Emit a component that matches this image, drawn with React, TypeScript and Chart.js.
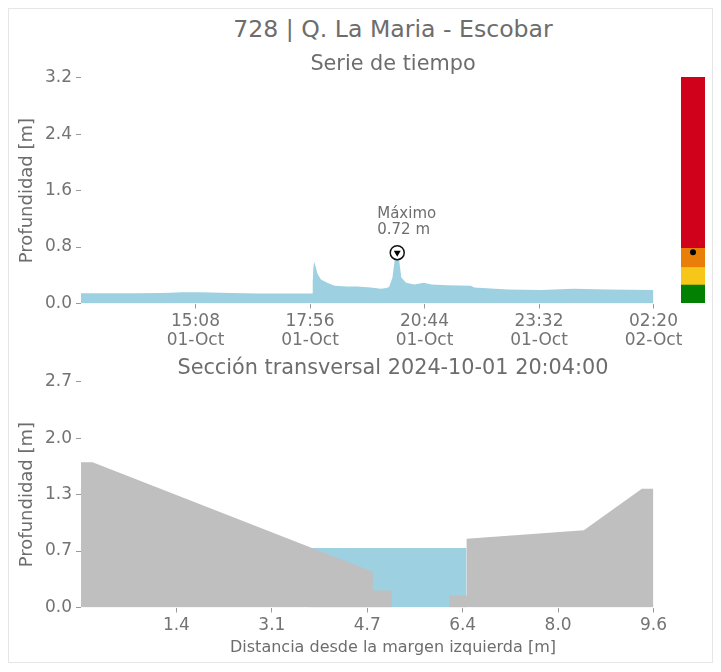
import React, { useEffect, useRef } from "react";
import { Chart, registerables } from "chart.js";

Chart.register(...registerables);

// ---------- text ----------
const stationTitle = "728 | Q. La Maria - Escobar";
const seriesTitle = "Serie de tiempo";
const sectionTime = "2024-10-01 20:04:00";
const sectionTitle = "Sección transversal " + sectionTime;
const depthLabel = "Profundidad [m]";
const distanceLabel = "Distancia desde la margen izquierda [m]";
const maxLabel = "Máximo";

// ---------- time series ----------
const seriesTimes = [
  "12:20", "13:00", "13:40", "14:20", "14:50", "15:10", "15:30", "16:00", "16:40", "17:20",
  "17:59", "18:00", "18:01", "18:02", "18:04", "18:07", "18:12", "18:22", "18:32", "18:50",
  "19:06", "19:25", "19:40", "19:48", "19:52", "19:57", "20:00", "20:03", "20:04", "20:05",
  "20:07", "20:10", "20:17", "20:29", "20:43", "20:54", "21:18", "21:52", "21:57", "22:46",
  "23:35", "00:23", "01:13", "02:19", "02:20",
];
const seriesDepths = [
  0.145, 0.145, 0.147, 0.15, 0.158, 0.16, 0.155, 0.148, 0.143, 0.142,
  0.142, 0.3, 0.5, 0.59, 0.53, 0.42, 0.34, 0.29, 0.25, 0.24,
  0.24, 0.225, 0.21, 0.22, 0.234, 0.37, 0.6, 0.7, 0.72, 0.7,
  0.6, 0.37, 0.295, 0.27, 0.295, 0.27, 0.26, 0.25, 0.225, 0.2,
  0.19, 0.21, 0.2, 0.19, 0.19,
];
const timeTickMinutes = [168, 336, 504, 672, 840];
const timeTickLabels = [
  ["15:08", "01-Oct"],
  ["17:56", "01-Oct"],
  ["20:44", "01-Oct"],
  ["23:32", "01-Oct"],
  ["02:20", "02-Oct"],
];
const timeSpanMinutes = 840;
const depthTicksTop = [0, 0.8, 1.6, 2.4, 3.2];
const depthTickLabelsTop = ["0.0", "0.8", "1.6", "2.4", "3.2"];

// ---------- alert levels ----------
const levelLimits = [0, 0.25, 0.5, 0.77, 3.2];
const levelColors = ["#018001", "#f6c619", "#e97f08", "#d0021b"];
const currentDepth = 0.72;

// ---------- cross section ----------
const groundX = [-0.24, -0.24, -0.04, 4.8, 4.8, 5.13, 5.13, 6.12, 6.12, 6.42, 6.42, 8.445, 9.447, 9.648, 9.648];
const groundY = [0, 1.71, 1.71, 0.42, 0.2, 0.2, 0, 0, 0.14, 0.14, 0.81, 0.91, 1.4, 1.4, 0];
const waterX = [3.7, 6.42];
const waterLevel = 0.7;
const distanceMin = -0.24;
const distanceMax = 9.648;
const distanceTicks = [1.408, 3.056, 4.704, 6.352, 8.0, 9.648];
const distanceTickLabels = ["1.4", "3.1", "4.7", "6.4", "8.0", "9.6"];
const depthTicksBottom = [0, 0.665, 1.33, 1.995, 2.66];
const depthTickLabelsBottom = ["0.0", "0.7", "1.3", "2.0", "2.7"];

// ---------- style ----------
const FONT = "DejaVu Sans";
const TEXT = "#6d6d6d";
const TICK_TEXT = "#737373";
const TICK_MARK = "#9a9a9a";
const WATER = "#9dd0e0";
const GROUND = "#bfbfbf";

function toMinutes(times: string[]): number[] {
  let day = 0;
  let prev = -Infinity;
  let base = 0;
  return times.map((t, i) => {
    const [h, m] = t.split(":").map(Number);
    let abs = h * 60 + m + day * 1440;
    if (abs < prev) {
      day += 1;
      abs += 1440;
    }
    prev = abs;
    if (i === 0) base = abs;
    return abs - base;
  });
}

function yAxis(ticks: number[], labels: string[], max: number) {
  return {
    type: "linear" as const,
    min: 0,
    max,
    afterBuildTicks: (s: any) => {
      s.ticks = ticks.map((v) => ({ value: v }));
    },
    afterFit: (s: any) => {
      s.width = 69;
    },
    border: { display: false },
    grid: { drawOnChartArea: false, drawTicks: true, tickLength: 5, color: TICK_MARK },
    ticks: {
      autoSkip: false,
      padding: 4,
      color: TICK_TEXT,
      font: { family: FONT, size: 17 },
      callback: (_v: any, i: number) => labels[i],
    },
    title: {
      display: true,
      text: depthLabel,
      color: TEXT,
      font: { family: FONT, size: 18 },
      padding: { top: 4.5, bottom: 0 },
    },
  };
}

function xAxisBase(min: number, max: number, ticks: number[], labels: any[]) {
  return {
    type: "linear" as const,
    min,
    max,
    afterBuildTicks: (s: any) => {
      s.ticks = ticks.map((v) => ({ value: v }));
    },
    afterFit: (s: any) => {
      s.height = 53.5;
    },
    border: { display: false },
    grid: { drawOnChartArea: false, drawTicks: true, tickLength: 5, color: TICK_MARK },
    ticks: {
      autoSkip: false,
      maxRotation: 0,
      padding: 3,
      color: TICK_TEXT,
      font: { family: FONT, size: 17, lineHeight: 1.15 },
      callback: (_v: any, i: number) => labels[i],
    },
  };
}

export default function App() {
  const topRef = useRef<HTMLCanvasElement>(null);
  const barRef = useRef<HTMLCanvasElement>(null);
  const secRef = useRef<HTMLCanvasElement>(null);

  useEffect(() => {
    const minutes = toMinutes(seriesTimes);
    const seriesPts = minutes.map((x, i) => ({ x, y: seriesDepths[i] }));
    let maxI = 0;
    seriesDepths.forEach((v, i) => {
      if (v > seriesDepths[maxI]) maxI = i;
    });
    const maxPt = { x: minutes[maxI], y: seriesDepths[maxI] };

    const annotate = {
      id: "maxAnnotation",
      afterDatasetsDraw(chart: any) {
        const { ctx, scales } = chart;
        const px = scales.x.getPixelForValue(maxPt.x);
        const py = scales.y.getPixelForValue(maxPt.y);
        ctx.save();
        ctx.font = `15px "${FONT}"`;
        ctx.fillStyle = TEXT;
        ctx.textAlign = "left";
        ctx.textBaseline = "middle";
        ctx.fillText(maxLabel, px - 20, py - 39);
        ctx.fillText(maxPt.y.toFixed(2) + " m", px - 20, py - 23);
        ctx.restore();
      },
    };

    const top = new Chart(topRef.current!, {
      type: "line",
      data: {
        datasets: [
          {
            data: [maxPt],
            showLine: false,
            pointStyle: "triangle",
            rotation: 180,
            pointRadius: 4,
            pointBackgroundColor: "#000",
            pointBorderColor: "#000",
            pointBorderWidth: 0,
            order: 0,
          } as any,
          {
            data: [maxPt],
            showLine: false,
            pointStyle: "circle",
            pointRadius: 7,
            pointBackgroundColor: "#fff",
            pointBorderColor: "#111",
            pointBorderWidth: 1.5,
            order: 1,
          },
          {
            data: seriesPts,
            fill: "origin",
            backgroundColor: WATER,
            borderColor: "rgba(0,0,0,0)",
            borderWidth: 0,
            pointRadius: 0,
            tension: 0,
            order: 2,
          },
        ],
      },
      options: {
        animation: false,
        responsive: false,
        maintainAspectRatio: false,
        layout: { padding: { top: 20.7, right: 48.5, left: 0, bottom: 0 } },
        plugins: { legend: { display: false }, tooltip: { enabled: false } },
        scales: {
          x: xAxisBase(0, timeSpanMinutes, timeTickMinutes, timeTickLabels),
          y: yAxis(depthTicksTop, depthTickLabelsTop, depthTicksTop[depthTicksTop.length - 1]),
        },
      } as any,
      plugins: [annotate],
    });

    const bar = new Chart(barRef.current!, {
      type: "bar",
      data: {
        labels: [""],
        datasets: [
          {
            type: "line",
            data: [currentDepth],
            showLine: false,
            pointRadius: 3,
            pointBackgroundColor: "#000",
            pointBorderColor: "#000",
            pointBorderWidth: 0,
            stack: "dot",
            order: 0,
          } as any,
          ...levelColors.map((c, i) => ({
            type: "bar" as const,
            data: [[levelLimits[i], levelLimits[i + 1]]],
            backgroundColor: c,
            borderWidth: 0,
            inflateAmount: 0.6,
            barPercentage: 1,
            categoryPercentage: 1,
            grouped: false,
            order: 1,
          })),
        ],
      },
      options: {
        animation: false,
        responsive: false,
        maintainAspectRatio: false,
        layout: { padding: 0, autoPadding: false },
        plugins: { legend: { display: false }, tooltip: { enabled: false } },
        scales: {
          x: { display: false },
          y: { display: false, min: 0, max: levelLimits[levelLimits.length - 1] },
        },
      } as any,
    });

    const groundPts = groundX.map((x, i) => ({ x, y: groundY[i] }));
    const waterPts = waterX.map((x) => ({ x, y: waterLevel }));

    const sec = new Chart(secRef.current!, {
      type: "line",
      data: {
        datasets: [
          {
            data: groundPts,
            fill: "origin",
            backgroundColor: GROUND,
            borderColor: "rgba(0,0,0,0)",
            borderWidth: 0,
            pointRadius: 0,
            tension: 0,
            order: 0,
          },
          {
            data: waterPts,
            fill: "origin",
            backgroundColor: WATER,
            borderColor: "rgba(0,0,0,0)",
            borderWidth: 0,
            pointRadius: 0,
            tension: 0,
            order: 1,
          },
        ],
      },
      options: {
        animation: false,
        responsive: false,
        maintainAspectRatio: false,
        layout: { padding: { top: 20.7, right: 48.5, left: 0, bottom: 0 } },
        plugins: { legend: { display: false }, tooltip: { enabled: false } },
        scales: {
          x: xAxisBase(distanceMin, distanceMax, distanceTicks, distanceTickLabels),
          y: yAxis(depthTicksBottom, depthTickLabelsBottom, depthTicksBottom[depthTicksBottom.length - 1]),
        },
      } as any,
    });

    return () => {
      top.destroy();
      bar.destroy();
      sec.destroy();
    };
  }, []);

  const titleStyle = (size: number, top: number): React.CSSProperties => ({
    position: "absolute",
    left: 384,
    top,
    transform: "translateX(-50%)",
    whiteSpace: "nowrap",
    fontFamily: FONT,
    fontSize: size,
    lineHeight: 1,
    color: TEXT,
  });

  return (
    <div
      style={{
        position: "relative",
        height: 655,
        boxSizing: "border-box",
        border: "1px solid #e6e6e6",
        background: "#fff",
      }}
    >
      <canvas ref={topRef} width={690} height={300} style={{ position: "absolute", left: 3, top: 48 }} />
      <canvas ref={secRef} width={690} height={300} style={{ position: "absolute", left: 3, top: 352 }} />
      <canvas ref={barRef} width={24} height={226} style={{ position: "absolute", left: 672, top: 68 }} />
      <div style={titleStyle(23.6, 8.6)}>{stationTitle}</div>
      <div style={titleStyle(20.8, 43.5)}>{seriesTitle}</div>
      <div style={titleStyle(20.8, 348)}>{sectionTitle}</div>
      <div style={titleStyle(16, 630.3)}>{distanceLabel}</div>
      <div
        style={{
          position: "absolute",
          left: -1,
          right: -1,
          top: 654,
          height: 9,
          background: "#eeeeee",
        }}
      />
    </div>
  );
}
